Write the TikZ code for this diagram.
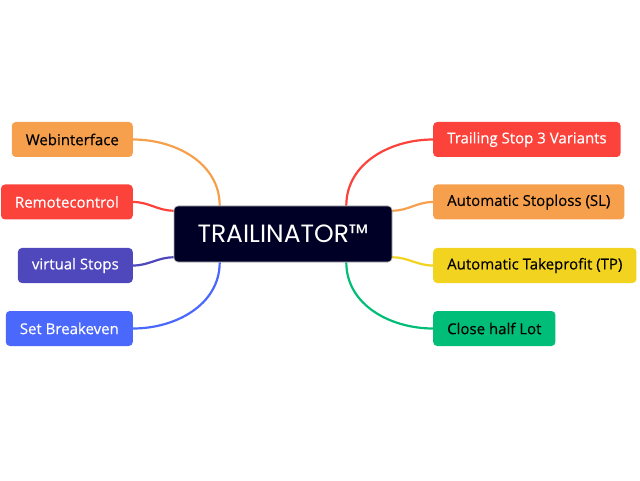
\documentclass[tikz,border=0pt]{standalone}
\usepackage{fontspec}
\setmainfont{Open Sans}
\newfontfamily\topicfont[FakeBold=0.35]{Open Sans}
\newfontfamily\titlefont{Poppins}
\usetikzlibrary{positioning, calc, backgrounds}

\definecolor{cOrange}{HTML}{F6A04D}
\definecolor{cRed}{HTML}{FB433B}
\definecolor{cPurple}{HTML}{4F47BC}
\definecolor{cBlue}{HTML}{4A68FB}
\definecolor{cYellow}{HTML}{F1D320}
\definecolor{cGreen}{HTML}{00BE78}
\definecolor{cNavy}{HTML}{000026}

\begin{document}
\begin{tikzpicture}[
  x=1pt, y=1pt,
  topic/.style={rounded corners=4pt, minimum height=35pt, inner xsep=14pt,
                font=\topicfont\fontsize{15}{17}\selectfont},
  root/.style={rounded corners=4pt, minimum width=218pt, minimum height=56pt,
               fill=cNavy, draw=gray!60, line width=0.6pt, text=white,
               font=\titlefont\fontsize{25}{28}\selectfont},
  link/.style={line width=2.2pt},
]
  \useasboundingbox (0,0) rectangle (640,480);

  % ═══ Centre ═══════════════════════════════════════════════
  \node[root] (tr) at (283, 246) {TRAILINATOR\texttrademark};
  \coordinate (tr_tl) at ([xshift=46pt]tr.north west);
  \coordinate (tr_bl) at ([xshift=46pt]tr.south west);
  \coordinate (tr_tr) at ([xshift=-46pt]tr.north east);
  \coordinate (tr_br) at ([xshift=-46pt]tr.south east);
  \coordinate (tr_lt) at ([yshift=-5pt]tr.north west);
  \coordinate (tr_lb) at ([yshift=5pt]tr.south west);
  \coordinate (tr_rt) at ([yshift=-5pt]tr.north east);
  \coordinate (tr_rb) at ([yshift=5pt]tr.south east);

  % ═══ LEFT topics ═════════════════════════════════════════
  \node[topic, fill=cOrange, text=black, anchor=east] (t_web)  at (133, 340.5) {Webinterface};
  \node[topic, fill=cRed,    text=white, anchor=east] (t_rem)  at (133, 278)   {Remotecontrol};
  \node[topic, fill=cPurple, text=white, anchor=east] (t_virt) at (133, 214.5) {virtual Stops};
  \node[topic, fill=cBlue,   text=white, anchor=east] (t_be)   at (133, 151.5) {Set Breakeven};

  % ═══ RIGHT topics ════════════════════════════════════════
  \node[topic, fill=cRed,    text=white, anchor=west] (t_trail) at (433, 340.5) {Trailing Stop 3 Variants};
  \node[topic, fill=cOrange, text=black, anchor=west] (t_sl)    at (433, 278)   {Automatic Stoploss (SL)};
  \node[topic, fill=cYellow, text=black, anchor=west] (t_tp)    at (433, 214.5) {Automatic Takeprofit (TP)};
  \node[topic, fill=cGreen,  text=black, anchor=west] (t_half)  at (433, 151.5) {Close half Lot};

  % ═══ Links (behind the boxes) ════════════════════════════
  \begin{pgfonlayer}{background}
  \draw[cOrange, link] (t_web.east)  to[out=0, in=90]    (tr_tl);
  \draw[cRed,    link] (t_rem.east)  to[out=0, in=180]   (tr_lt);
  \draw[cPurple, link] (t_virt.east) to[out=0, in=180]   (tr_lb);
  \draw[cBlue,   link] (t_be.east)   to[out=0, in=-90]   (tr_bl);

  \draw[cRed,    link] (t_trail.west) to[out=180, in=90]  (tr_tr);
  \draw[cOrange, link] (t_sl.west)    to[out=180, in=0]   (tr_rt);
  \draw[cYellow, link] (t_tp.west)    to[out=180, in=0]   (tr_rb);
  \draw[cGreen,  link] (t_half.west)  to[out=180, in=-90] (tr_br);
  \end{pgfonlayer}
\end{tikzpicture}
\end{document}
